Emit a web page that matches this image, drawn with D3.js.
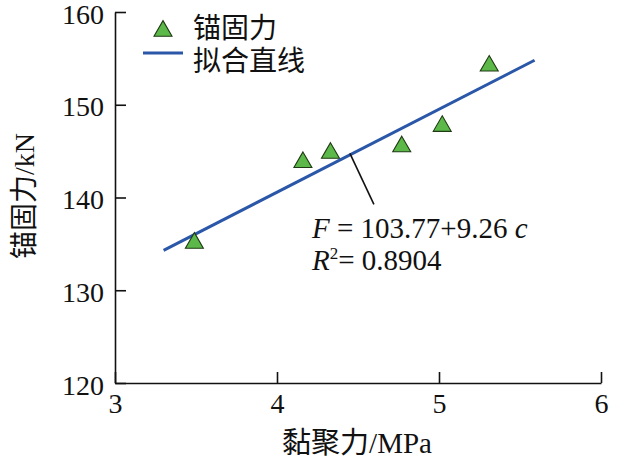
<!DOCTYPE html>
<html><head><meta charset="utf-8">
<script src="https://cdn.jsdelivr.net/npm/d3@7"></script>
<style>
html,body{margin:0;padding:0;background:#fff;}
text{font-family:"Liberation Serif","Noto Sans CJK SC",serif;fill:#111;}
</style></head>
<body><svg id="chart" width="640" height="460"></svg>
<script>
// Data
const cohesion = [3.49, 4.16, 4.33, 4.77, 5.02, 5.31];      // 黏聚力 / MPa
const anchorForce = [135.2, 143.9, 144.9, 145.6, 147.8, 154.3]; // 锚固力 / kN
const fitX = [3.3, 5.59];
const fitY = [134.3, 154.8];
const xTicks = [3, 4, 5, 6];
const yTicks = [120, 130, 140, 150, 160];
const legendLabels = ["锚固力", "拟合直线"];

const svg = d3.select("#chart");
const m = {left:115, top:12, right:39, bottom:77};
const H = 460 - m.top - m.bottom;
const g = svg.append("g").attr("transform", `translate(${m.left},${m.top})`);

const x = d3.scaleLinear().domain([3, 6]).range([0, 486]);
const y = d3.scaleLinear().domain([120, 160]).range([H, 0]);

const xAxis = g.append("g").attr("transform", `translate(0,${H})`)
  .call(d3.axisBottom(x).tickValues(xTicks).tickSizeInner(-11).tickSizeOuter(0).tickPadding(10).tickFormat(d3.format("d")));
const yAxis = g.append("g")
  .call(d3.axisLeft(y).tickValues(yTicks).tickSizeInner(-11).tickSizeOuter(0).tickPadding(11).tickFormat(d3.format("d")));
[xAxis, yAxis].forEach(a => {
  a.selectAll("path,line").attr("stroke", "#111").attr("stroke-width", 1.6);
  a.selectAll("text").attr("font-size", 28).attr("fill", "#111")
    .style("font-family", '"Liberation Serif", serif');
});
yAxis.selectAll("text").attr("dy", "0.4em");

// fit line
g.append("line")
  .attr("x1", x(fitX[0])).attr("y1", y(fitY[0]))
  .attr("x2", x(fitX[1])).attr("y2", y(fitY[1]))
  .attr("stroke", "#2a57a8").attr("stroke-width", 3);

// triangles
const tri = d3.symbol().type(d3.symbolTriangle).size(140);
g.selectAll(".pt").data(cohesion.map((c, i) => [c, anchorForce[i]]))
  .join("path").attr("class", "pt")
  .attr("d", tri)
  .attr("transform", d => `translate(${x(d[0])},${y(d[1]) + 1})`)
  .attr("fill", "#5cb848").attr("stroke", "#1f3a14").attr("stroke-width", 1.1);

// annotation leader line
const ax = 4.45, ay = 103.77 + 9.26 * 4.45;
g.append("line")
  .attr("x1", x(ax)).attr("y1", y(ay) + 2)
  .attr("x2", x(ax) + 24).attr("y2", y(ay) + 53)
  .attr("stroke", "#111").attr("stroke-width", 1.6);

// equation text
const eq = svg.append("text").attr("x", 312).attr("y", 238).attr("font-size", 29);
eq.append("tspan").attr("font-style", "italic").text("F");
eq.append("tspan").text(" = 103.77+9.26 ");
eq.append("tspan").attr("font-style", "italic").text("c");
const r2 = svg.append("text").attr("x", 312).attr("y", 270).attr("font-size", 29);
r2.append("tspan").attr("font-style", "italic").text("R");
r2.append("tspan").attr("font-size", 17).attr("dy", -11).text("2");
r2.append("tspan").attr("dy", 11).text("= 0.8904");

// legend
svg.append("path").attr("d", tri).attr("transform", "translate(163,31)")
  .attr("fill", "#5cb848").attr("stroke", "#1f3a14").attr("stroke-width", 1.1);
svg.append("line").attr("x1", 143).attr("x2", 183).attr("y1", 53).attr("y2", 53)
  .attr("stroke", "#2a57a8").attr("stroke-width", 3);
svg.append("text").attr("x", 193).attr("y", 38).attr("font-size", 28).text(legendLabels[0]);
svg.append("text").attr("x", 193).attr("y", 71).attr("font-size", 28).text(legendLabels[1]);

// axis titles
svg.append("text").attr("x", 357).attr("y", 453).attr("text-anchor", "middle").attr("font-size", 29).text("黏聚力/MPa");
svg.append("text").attr("transform", "translate(34,196) rotate(-90)").attr("text-anchor", "middle").attr("font-size", 28).text("锚固力/kN");
</script></body></html>
